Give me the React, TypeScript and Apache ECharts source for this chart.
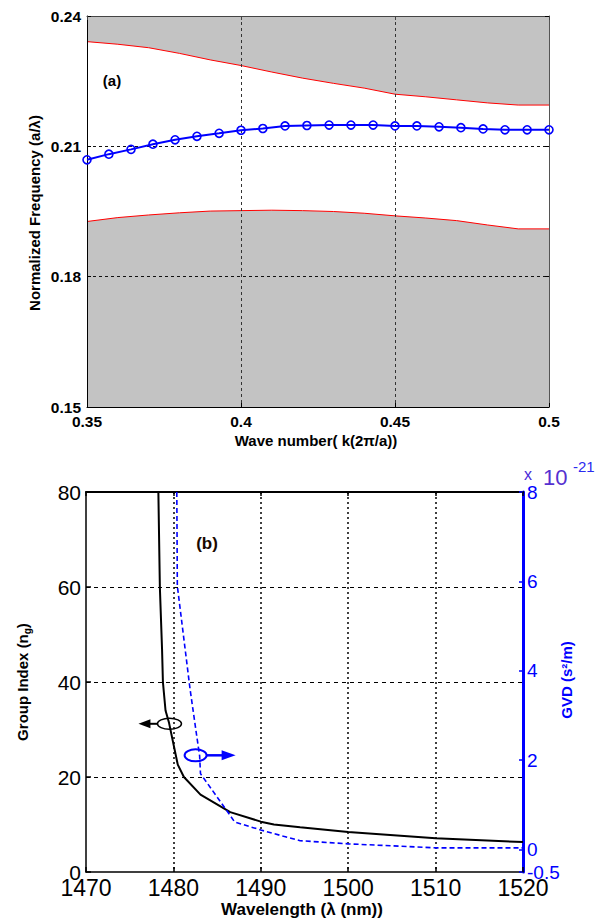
import React, { useEffect, useRef } from 'react';
import * as echarts from 'echarts';

const FONT = '"Liberation Sans", Arial, Helvetica, sans-serif';

// ---- Panel (a) data ----
const bandK = [0.35, 0.36, 0.37, 0.38, 0.39, 0.4, 0.41, 0.42, 0.43, 0.44, 0.45, 0.46, 0.47, 0.48, 0.49, 0.5];
const upperBand = [0.2341, 0.2335, 0.2327, 0.2314, 0.2299, 0.2286, 0.2271, 0.2257, 0.2245, 0.2234, 0.222, 0.2214, 0.2207, 0.22, 0.2195, 0.2195];
const lowerBand = [0.1927, 0.1936, 0.1942, 0.1947, 0.1951, 0.1952, 0.1953, 0.1952, 0.195, 0.1946, 0.194, 0.1935, 0.1929, 0.1919, 0.191, 0.191];
const modeK = [0.35, 0.3571, 0.3643, 0.3714, 0.3786, 0.3857, 0.3929, 0.4, 0.4071, 0.4143, 0.4214, 0.4286, 0.4357, 0.4429, 0.45, 0.4571, 0.4643, 0.4714, 0.4786, 0.4857, 0.4929, 0.5];
const modeFreq = [0.2069, 0.2082, 0.2093, 0.2105, 0.2115, 0.2123, 0.213, 0.2137, 0.2141, 0.2147, 0.2148, 0.2149, 0.2149, 0.2149, 0.2147, 0.2147, 0.2145, 0.2143, 0.214, 0.2138, 0.2138, 0.2138];

// ---- Panel (b) data ----
const ngWavelength = [1478.28, 1478.45, 1478.7, 1478.8, 1479.1, 1479.5, 1480.5, 1481.2, 1483.1, 1486.5, 1490, 1491.5, 1494.5, 1500, 1510, 1520];
const ngValues = [80, 60, 47, 40, 34, 31.4, 22.6, 20, 16.3, 12.6, 10.6, 10.0, 9.4, 8.4, 7.1, 6.3];
const gvdWavelength = [1480.39, 1480.45, 1481.9, 1482.7, 1483.0, 1483.1, 1486.3, 1487.0, 1490, 1492.6, 1494.5, 1500, 1510, 1520];
const gvdValues = [8, 5.9, 3.6, 2.5, 2.1, 1.7, 0.82, 0.62, 0.44, 0.3, 0.2, 0.13, 0.04, 0.04];
const gvdTicks = [-0.5, 0, 2, 4, 6, 8];

const zip = (xs: number[], ys: number[]) => xs.map((x, i) => [x, ys[i]]);

export default function App() {
  const ref = useRef<HTMLDivElement>(null);
  useEffect(() => {
    if (!ref.current) return;
    const chart = echarts.init(ref.current, undefined, { renderer: 'svg' });
    const fmt2 = (v: number) => String(+v.toFixed(2));
    const plain = (v: number) => String(v);
    const option: any = {
      animation: false,
      backgroundColor: '#ffffff',
      grid: [
        { left: 87, top: 16, width: 462, height: 391 },
        { left: 86, top: 492, width: 437, height: 380 },
      ],
      xAxis: [
        {
          gridIndex: 0, type: 'value', min: 0.35, max: 0.5, interval: 0.05, z: 3,
          axisLine: { show: true, onZero: false, lineStyle: { color: '#000', width: 1 } },
          axisTick: { show: true, inside: true, length: 4, lineStyle: { color: '#000' } },
          axisLabel: { color: '#000', fontFamily: FONT, fontSize: 15.5, fontWeight: 'bold', margin: 6, formatter: fmt2 },
          splitLine: { show: true, showMinLine: false, showMaxLine: false, lineStyle: { color: '#333', type: [3, 3], width: 1 } },
        },
        {
          gridIndex: 0, type: 'value', position: 'top', min: 0.35, max: 0.5, interval: 0.05, z: 3,
          axisLine: { show: true, onZero: false, lineStyle: { color: '#444', width: 1 } },
          axisTick: { show: true, inside: true, length: 4, lineStyle: { color: '#444' } },
          axisLabel: { show: false }, splitLine: { show: false },
        },
        {
          gridIndex: 1, type: 'value', min: 1470, max: 1520, interval: 10, z: 3,
          axisLine: { show: true, onZero: false, lineStyle: { color: '#000', width: 1.5 } },
          axisTick: { show: true, inside: true, length: 5, lineStyle: { color: '#000', width: 1.5 } },
          axisLabel: { color: '#000', fontFamily: FONT, fontSize: 23, lineHeight: 18, margin: 7, formatter: plain },
          splitLine: { show: true, showMinLine: false, showMaxLine: false, lineStyle: { color: '#000', type: [2, 3], width: 1.5 } },
        },
        {
          gridIndex: 1, type: 'value', position: 'top', min: 1470, max: 1520, interval: 10, z: 3,
          axisLine: { show: true, onZero: false, lineStyle: { color: '#000', width: 2 } },
          axisTick: { show: true, inside: true, length: 4, lineStyle: { color: '#000', width: 1.5 } },
          axisLabel: { show: false }, splitLine: { show: false },
        },
      ],
      yAxis: [
        {
          gridIndex: 0, type: 'value', min: 0.15, max: 0.24, interval: 0.03, z: 3,
          axisLine: { show: true, onZero: false, lineStyle: { color: '#000', width: 1 } },
          axisTick: { show: true, inside: true, length: 4, lineStyle: { color: '#000' } },
          axisLabel: { color: '#000', fontFamily: FONT, fontSize: 15.5, fontWeight: 'bold', margin: 6, formatter: fmt2 },
          splitLine: { show: true, showMinLine: false, showMaxLine: false, lineStyle: { color: '#111', type: [3, 3], width: 1 } },
        },
        {
          gridIndex: 0, type: 'value', position: 'right', min: 0.15, max: 0.24, interval: 0.03, z: 3,
          axisLine: { show: true, onZero: false, lineStyle: { color: '#555', width: 1 } },
          axisTick: { show: true, inside: true, length: 4, lineStyle: { color: '#000' } },
          axisLabel: { show: false }, splitLine: { show: false },
        },
        {
          gridIndex: 1, type: 'value', min: 0, max: 80, interval: 20, z: 3,
          axisLine: { show: true, onZero: false, lineStyle: { color: '#000', width: 1.5 } },
          axisTick: { show: true, inside: true, length: 5, lineStyle: { color: '#000', width: 1.5 } },
          axisLabel: { color: '#000', fontFamily: FONT, fontSize: 21, lineHeight: 14, margin: 5, formatter: plain },
          splitLine: { show: true, showMinLine: false, showMaxLine: false, lineStyle: { color: '#000', type: [4, 4], width: 1 } },
        },
        {
          gridIndex: 1, type: 'value', position: 'right', min: -0.5, max: 8, z: 3,
          axisLine: { show: true, onZero: false, lineStyle: { color: '#0000ff', width: 3 } },
          axisTick: { show: true, inside: true, length: 4, customValues: gvdTicks, lineStyle: { color: '#0000ff', width: 1.5 } },
          axisLabel: { color: '#0000ff', fontFamily: FONT, fontSize: 19, lineHeight: 14, margin: 4, customValues: gvdTicks, formatter: plain },
          splitLine: { show: false },
        },
      ],
      series: [
        {
          type: 'line', xAxisIndex: 0, yAxisIndex: 0, data: zip(bandK, upperBand), symbol: 'none', z: 1,
          lineStyle: { color: '#ff0000', width: 1 },
          areaStyle: { color: '#c3c3c3', opacity: 1, origin: 'end' },
        },
        {
          type: 'line', xAxisIndex: 0, yAxisIndex: 0, data: zip(bandK, lowerBand), symbol: 'none', z: 1,
          lineStyle: { color: '#ff0000', width: 1 },
          areaStyle: { color: '#c3c3c3', opacity: 1, origin: 'start' },
        },
        {
          type: 'line', xAxisIndex: 0, yAxisIndex: 0, data: zip(modeK, modeFreq), symbol: 'circle', symbolSize: 8, z: 5,
          lineStyle: { color: '#0000ff', width: 2 },
          itemStyle: { color: 'rgba(255,255,255,0)', borderColor: '#0000ff', borderWidth: 1.6 },
        },
        {
          type: 'line', xAxisIndex: 2, yAxisIndex: 2, data: zip(ngWavelength, ngValues), symbol: 'none', z: 5,
          lineStyle: { color: '#000', width: 2 },
        },
        {
          type: 'line', xAxisIndex: 2, yAxisIndex: 3, data: zip(gvdWavelength, gvdValues), symbol: 'none', z: 5,
          lineStyle: { color: '#0000ff', width: 1.6, type: [5, 3] },
        },
      ],
    };
    chart.setOption(option);

    const pB = chart.convertToPixel({ xAxisIndex: 2, yAxisIndex: 2 }, [1479.55, 31.2]) as number[];
    const pG = chart.convertToPixel({ xAxisIndex: 2, yAxisIndex: 3 }, [1482.54, 2.11]) as number[];
    const txt = (x: number, y: number, text: string, extra: any = {}, rotation = 0) => ({
      type: 'text', x, y, rotation, z: 10,
      style: { text, fontFamily: FONT, fontSize: 15, fontWeight: 'bold', fill: '#000', align: 'center', verticalAlign: 'middle', ...extra },
    });
    chart.setOption({
      graphic: [
        txt(112, 80, '(a)'),
        txt(34, 213, 'Normalized Frequency (a/λ)', {}, Math.PI / 2),
        txt(316, 440, 'Wave number( k(2π/a))'),
        txt(207, 543, '(b)', { fontSize: 17, fill: '#1a0800' }),
        {
          type: 'text', x: 22, y: 682, rotation: Math.PI / 2, z: 10,
          style: {
            text: '{m|Group Index (n}{s|g}{m|)}', align: 'center', verticalAlign: 'middle',
            rich: {
              m: { fontFamily: FONT, fontSize: 15, fontWeight: 'bold', fill: '#000', lineHeight: 20, verticalAlign: 'middle' },
              s: { fontFamily: FONT, fontSize: 10, fontWeight: 'bold', fill: '#000', lineHeight: 20, verticalAlign: 'bottom' },
            },
          },
        },
        txt(302, 909, 'Wavelength (λ (nm))', { fontSize: 17 }),
        txt(566, 680, 'GVD (s²/m)', { fontSize: 15, fill: '#0000ff' }, Math.PI / 2),
        txt(528, 474, 'x', { fontSize: 16, fontWeight: 'normal', fill: '#4a2ad8', lineHeight: 14 }),
        txt(543, 477, '10', { fontSize: 22, fontWeight: 'normal', fill: '#5530d0', align: 'left' }),
        txt(573, 466, '-21', { fontSize: 15, fontWeight: 'normal', fill: '#2a2af0', align: 'left' }),
        // annotation: black ellipse + left arrow
        { type: 'ellipse', z: 10, shape: { cx: pB[0], cy: pB[1], rx: 12, ry: 5.5 }, style: { fill: 'none', stroke: '#000', lineWidth: 1.5 } },
        { type: 'line', z: 10, shape: { x1: pB[0] - 12, y1: pB[1], x2: pB[0] - 20, y2: pB[1] }, style: { stroke: '#000', lineWidth: 2 } },
        { type: 'polygon', z: 10, shape: { points: [[pB[0] - 31, pB[1]], [pB[0] - 19, pB[1] - 4.5], [pB[0] - 19, pB[1] + 4.5]] }, style: { fill: '#000' } },
        // annotation: blue ellipse + right arrow
        { type: 'ellipse', z: 10, shape: { cx: pG[0], cy: pG[1], rx: 11, ry: 6 }, style: { fill: 'none', stroke: '#0000ff', lineWidth: 2 } },
        { type: 'line', z: 10, shape: { x1: pG[0] + 11, y1: pG[1], x2: pG[0] + 28, y2: pG[1] }, style: { stroke: '#0000ff', lineWidth: 2.5 } },
        { type: 'polygon', z: 10, shape: { points: [[pG[0] + 40, pG[1]], [pG[0] + 26, pG[1] - 5], [pG[0] + 26, pG[1] + 5]] }, style: { fill: '#0000ff' } },
      ],
    });
    return () => chart.dispose();
  }, []);
  return <div ref={ref} style={{ position: 'fixed', left: 0, top: 0, width: 607, height: 919, background: '#fff' }} />;
}
